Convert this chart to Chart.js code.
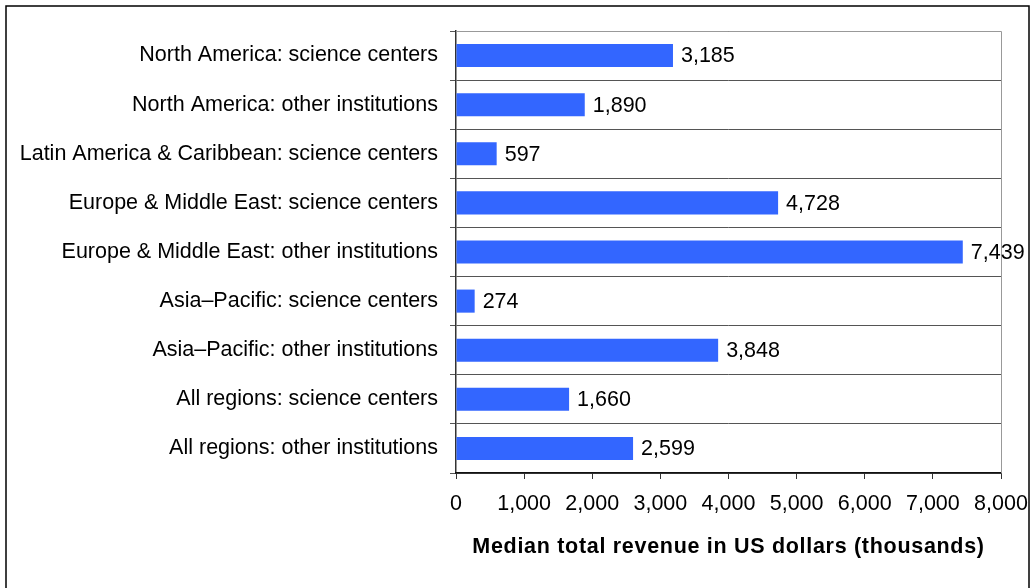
<!DOCTYPE html>
<html>
<head>
<meta charset="utf-8">
<script src="https://cdn.jsdelivr.net/npm/chart.js@4/dist/chart.umd.min.js"></script>
<style>
  html, body { margin: 0; padding: 0; background: #fff; }
  #wrap { width: 1030px; height: 588px; }
</style>
</head>
<body>
<div id="wrap"><canvas id="revenueChart" width="1030" height="588"></canvas></div>
<script>
// median total revenue per region / institution type, thousands of US dollars
const categories = [
  'North America: science centers',
  'North America: other institutions',
  'Latin America & Caribbean: science centers',
  'Europe & Middle East: science centers',
  'Europe & Middle East: other institutions',
  'Asia\u2013Pacific: science centers',
  'Asia\u2013Pacific: other institutions',
  'All regions: science centers',
  'All regions: other institutions'
];
const revenue = [3185, 1890, 597, 4728, 7439, 274, 3848, 1660, 2599];
const xTicks = [0, 1000, 2000, 3000, 4000, 5000, 6000, 7000, 8000];
const xTitle = 'Median total revenue in US dollars (thousands)';

const FONT = 'Liberation Sans, Arial, sans-serif';
const SIZE = 21.5;
const fmt = v => v.toLocaleString('en-US');

// frame around the whole figure
const outerFrame = {
  id: 'outerFrame',
  afterDraw(chart) {
    const c = chart.ctx;
    c.save();
    c.strokeStyle = '#000';
    c.lineWidth = 1.5;
    c.strokeRect(6, 6, 1023, 600);
    c.restore();
  }
};

// light top/right edge of the plot area
const plotEdge = {
  id: 'plotEdge',
  beforeDatasetsDraw(chart) {
    const a = chart.chartArea, c = chart.ctx;
    c.save();
    c.strokeStyle = '#999';
    c.lineWidth = 1;
    c.beginPath();
    c.moveTo(a.left, a.top + 0.5);
    c.lineTo(a.right + 0.5, a.top + 0.5);
    c.lineTo(a.right + 0.5, a.bottom);
    c.stroke();
    c.restore();
  }
};

// value printed after each bar, plus the spaced-out bold axis title
const valueLabels = {
  id: 'valueLabels',
  afterDatasetsDraw(chart) {
    const c = chart.ctx;
    const meta = chart.getDatasetMeta(0);
    c.save();
    c.font = SIZE + 'px ' + FONT;
    c.fillStyle = '#000';
    c.textAlign = 'left';
    c.textBaseline = 'middle';
    meta.data.forEach((bar, i) => {
      c.fillText(fmt(revenue[i]), bar.x + 8, bar.y + 1);
    });

    const a = chart.chartArea;
    c.font = 'bold ' + SIZE + 'px ' + FONT;
    c.letterSpacing = '0.7px';
    c.textAlign = 'center';
    c.fillText(xTitle, (a.left + a.right) / 2, 547);
    c.restore();
  }
};

new Chart(document.getElementById('revenueChart'), {
  type: 'bar',
  data: {
    labels: categories,
    datasets: [{
      data: revenue,
      backgroundColor: '#3366FF',
      borderWidth: 0,
      categoryPercentage: 1,
      barPercentage: 0.47
    }]
  },
  options: {
    indexAxis: 'y',
    responsive: false,
    animation: false,
    layout: { padding: { left: 0, top: 31, right: 29, bottom: 15 } },
    plugins: {
      legend: { display: false },
      tooltip: { enabled: false }
    },
    scales: {
      y: {
        afterFit: s => { s.width = 456; },
        grid: {
          offset: true,
          color: '#555',
          lineWidth: 1,
          tickLength: 6
        },
        border: { color: '#333', width: 1.5 },
        ticks: {
          color: '#000',
          padding: 12,
          font: { family: FONT, size: SIZE }
        }
      },
      x: {
        min: 0,
        max: 8000,
        afterFit: s => {
          s.height = 100;
          s.paddingLeft = 0;
          s.paddingRight = 0;
        },
        afterBuildTicks: s => { s.ticks = xTicks.map(v => ({ value: v })); },
        grid: {
          drawOnChartArea: false,
          color: '#333',
          tickLength: 6
        },
        border: { color: '#111', width: 1.5 },
        ticks: {
          color: '#000',
          padding: 12,
          maxRotation: 0,
          font: { family: FONT, size: SIZE },
          callback: v => fmt(v)
        }
      }
    }
  },
  plugins: [outerFrame, plotEdge, valueLabels]
});
</script>
</body>
</html>
